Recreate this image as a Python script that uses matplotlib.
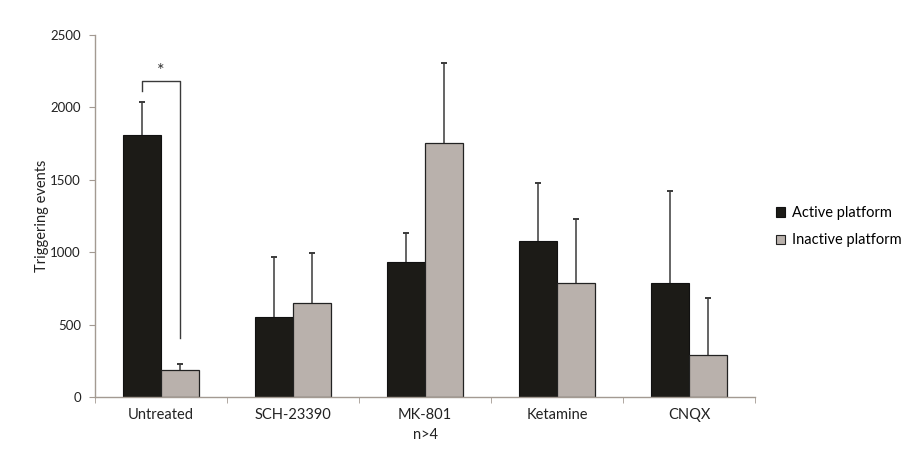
import matplotlib
matplotlib.use('Agg')
import matplotlib.pyplot as plt
import numpy as np

categories = ['Untreated', 'SCH-23390', 'MK-801', 'Ketamine', 'CNQX']
active = [1810, 550, 935, 1075, 790]
active_err = [230, 415, 195, 400, 630]
inactive = [185, 648, 1752, 785, 288]
inactive_err = [45, 345, 553, 442, 393]

plt.rcParams['font.family'] = ['Lato', 'DejaVu Sans']

axis_col = '#a39a92'
black = '#1c1b17'
grey = '#b9b1ac'

fig = plt.figure(figsize=(9.21, 4.49), dpi=100)
ax = fig.add_axes([0.103, 0.116, 0.717, 0.806])

x = np.arange(len(categories))
w = 0.29
ax.bar(x - w / 2, active, w, color=black, edgecolor='#111111', linewidth=0.8,
       label='Active platform', zorder=2)
ax.bar(x + w / 2, inactive, w, color=grey, edgecolor='#222222', linewidth=0.9,
       label='Inactive platform', zorder=2)

# upper error bars only, cap at the top
for xs, vals, errs in [(x - w / 2, active, active_err), (x + w / 2, inactive, inactive_err)]:
    eb = ax.errorbar(xs, vals, yerr=[np.zeros(len(xs)), errs], fmt='none',
                     ecolor='#3a3a3a', elinewidth=1.1, capsize=2.3, capthick=1.4, zorder=1)
    for cl in eb.lines[1]:
        if np.allclose(cl.get_ydata(), vals):
            cl.set_visible(False)

# significance bracket
bx0, bx1 = x[0] - w / 2, x[0] + w / 2
ax.plot([bx0, bx0, bx1, bx1], [2110, 2180, 2180, 410], color='#3a3a3a', lw=1.0)
ax.text(x[0], 2195, '*', ha='center', va='bottom', fontsize=13, color='#333333')

ax.set_xlim(-0.5, len(categories) - 0.5)
ax.set_ylim(0, 2500)
ax.set_yticks(np.arange(0, 2501, 500))
ax.set_xticks(x)
ax.set_xticklabels(categories)
ax.set_xticks(np.arange(-0.5, len(categories)), minor=True)
ax.tick_params(axis='x', which='major', length=0, pad=8, labelsize=10.5, colors='#222222')
ax.tick_params(axis='x', which='minor', length=4, color=axis_col, direction='out')
ax.tick_params(axis='y', length=4, color=axis_col, labelsize=9.5, pad=6, labelcolor='#222222')

for s in ['top', 'right']:
    ax.spines[s].set_visible(False)
for s in ['left', 'bottom']:
    ax.spines[s].set_color(axis_col)
    ax.spines[s].set_linewidth(1.0)

ax.set_ylabel('Triggering events', fontsize=10.5, color='#222222')
ax.yaxis.set_label_coords(-0.07, 0.5)
ax.set_xlabel('n>4', fontsize=10.5, color='#222222', labelpad=4)

leg = ax.legend(loc='center left', bbox_to_anchor=(1.012, 0.47), frameon=False,
                fontsize=10.5, handlelength=0.6, handleheight=0.6,
                handletextpad=0.5, labelspacing=0.9)
for h in leg.legend_handles:
    h.set_linewidth(0.8)

fig.savefig('out.png', dpi=100)
